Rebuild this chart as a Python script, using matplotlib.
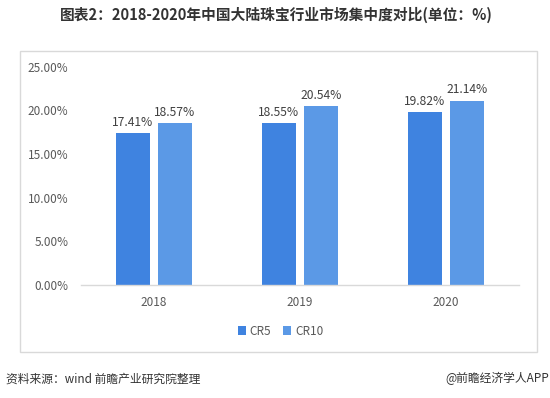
import matplotlib
matplotlib.use('Agg')
import matplotlib.pyplot as plt
from matplotlib.patches import Rectangle
from matplotlib.ticker import FuncFormatter
import numpy as np

plt.rcParams['font.family'] = ['Noto Sans CJK SC', 'DejaVu Sans']

years = ['2018', '2019', '2020']
cr5 = [17.41, 18.55, 19.82]
cr10 = [18.57, 20.54, 21.14]
series_names = ['CR5', 'CR10']

title = '图表2：2018-2020年中国大陆珠宝行业市场集中度对比(单位：%)'
source = '资料来源：wind 前瞻产业研究院整理'
credit = '@前瞻经济学人APP'

c5 = '#3F83E0'
c10 = '#5B99E6'
grey = '#595959'

fig = plt.figure(figsize=(5.5, 3.98), dpi=100)

# outer frame of the chart
fig.patches.append(Rectangle((0.0364, 0.1156), 0.976 - 0.0364, 0.872 - 0.1156,
                             transform=fig.transFigure, fill=False,
                             edgecolor='#D9D9D9', linewidth=1.0))

ax = fig.add_axes([0.147, 0.284, 0.797, 0.548])

x = np.arange(len(years))
w = 0.233
off = 0.144
b1 = ax.bar(x - off, cr5, w, color=c5, label=series_names[0])
b2 = ax.bar(x + off, cr10, w, color=c10, label=series_names[1])

for bars, vals in [(b1, cr5), (b2, cr10)]:
    for rect, v in zip(bars, vals):
        ax.annotate('%.2f%%' % v, (rect.get_x() + rect.get_width() / 2, v),
                    xytext=(0, 3), textcoords='offset points',
                    ha='center', va='bottom', fontsize=8.7, color='#404040')

ax.set_xlim(-0.5, 2.5)
ax.set_ylim(0, 25)
ax.set_yticks([0, 5, 10, 15, 20, 25])
ax.yaxis.set_major_formatter(FuncFormatter(lambda v, p: '%.2f%%' % v))
ax.set_xticks(x)
ax.set_xticklabels(years)
ax.tick_params(axis='both', length=0, labelsize=8.5, colors=grey)
ax.tick_params(axis='x', pad=8)
ax.tick_params(axis='y', pad=9)

for s in ['top', 'right', 'left']:
    ax.spines[s].set_visible(False)
ax.spines['bottom'].set_color('#D9D9D9')
ax.spines['bottom'].set_linewidth(1.0)

fig.legend(handles=[b1, b2], labels=series_names, loc='center',
           bbox_to_anchor=(0.51, 0.168), ncol=2, frameon=False,
           fontsize=8.5, handlelength=0.7, handleheight=0.7,
           handletextpad=0.3, columnspacing=1.0, labelcolor=grey)

fig.text(0.502, 0.962, title, ha='center', va='center', fontsize=10.6,
         fontweight='bold', color='#333333')
fig.text(0.01, 0.048, source, ha='left', va='center', fontsize=8.5, color='#333333')
fig.text(0.998, 0.048, credit, ha='right', va='center', fontsize=8.5, color='#333333')

plt.savefig('out.png', dpi=100)
